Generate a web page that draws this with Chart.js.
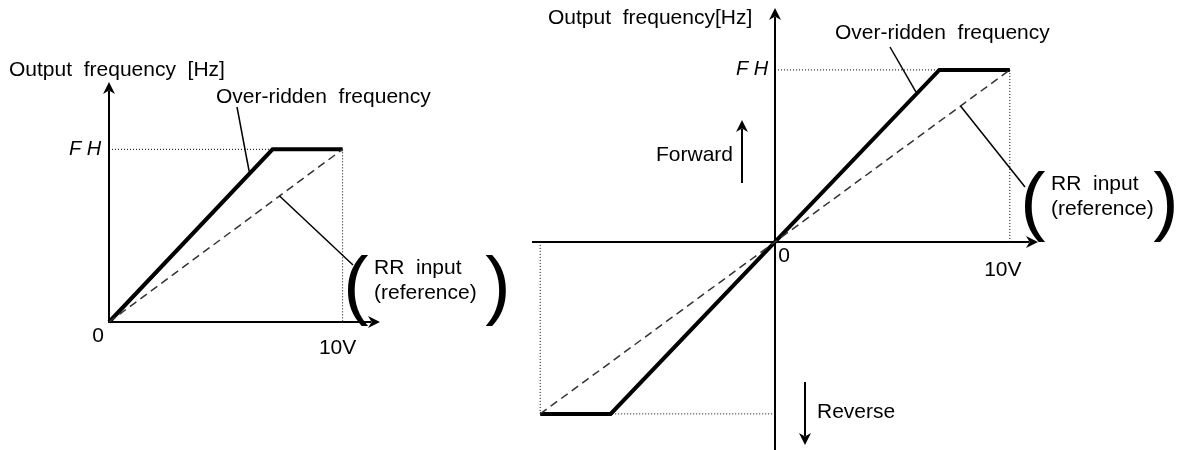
<!DOCTYPE html>
<html>
<head>
<meta charset="utf-8">
<script src="https://cdn.jsdelivr.net/npm/chart.js@4.4.1/dist/chart.umd.min.js"></script>
<style>
  body { margin:0; background:#fff; }
  #wrap { position:relative; width:1178px; height:450px; }
  .box { position:absolute; top:0; }
</style>
</head>
<body>
<div id="wrap">
  <div class="box" style="left:0px"><canvas id="leftChart" width="520" height="450"></canvas></div>
  <div class="box" style="left:500px"><canvas id="rightChart" width="678" height="450"></canvas></div>
</div>
<script>
// input voltage [V] and output frequency [% of FH]
var voltsLeft = [0, 7, 10];
var freqLeft = [0, 100, 100];
var refVoltsLeft = [0, 10];
var refFreqLeft = [0, 100];

var voltsRight = [-10, -7, 0, 7, 10];
var freqRight = [-100, -100, 0, 100, 100];
var refVoltsRight = [-10, 10];
var refFreqRight = [-100, 100];

var xTickLabels = ['0', '10V'];
var xTickValues = [0, 10];
var yTickLabel = 'F H';
var yTickValue = 100;
var seriesNames = ['Over-ridden  frequency', 'RR  input', '(reference)'];

var FONT = '"Liberation Sans", Arial, sans-serif';

function pts(xs, ys) {
	var out = [];
	for (var i = 0; i < xs.length; i++) out.push({x: xs[i], y: ys[i]});
	return out;
}

function arrow(ctx, x1, y1, x2, y2, w) {
	var a = Math.atan2(y2 - y1, x2 - x1);
	var len = 12, half = 6;
	var c = Math.cos(a), s = Math.sin(a);
	ctx.save();
	ctx.strokeStyle = '#000';
	ctx.fillStyle = '#000';
	ctx.lineWidth = w;
	ctx.beginPath();
	ctx.moveTo(x1, y1);
	ctx.lineTo(x2 - c * (len - 3), y2 - s * (len - 3));
	ctx.stroke();
	ctx.beginPath();
	ctx.moveTo(x2, y2);
	ctx.lineTo(x2 - c * len - s * half, y2 - s * len + c * half);
	ctx.lineTo(x2 - c * len * 0.7, y2 - s * len * 0.7);
	ctx.lineTo(x2 - c * len + s * half, y2 - s * len - c * half);
	ctx.closePath();
	ctx.fill();
	ctx.restore();
}

function dotted(ctx, x1, y1, x2, y2) {
	ctx.save();
	ctx.strokeStyle = '#000';
	ctx.lineWidth = 1;
	ctx.setLineDash([1, 2]);
	ctx.beginPath();
	ctx.moveTo(x1, y1);
	ctx.lineTo(x2, y2);
	ctx.stroke();
	ctx.restore();
}

function seg(ctx, x1, y1, x2, y2) {
	ctx.save();
	ctx.strokeStyle = '#000';
	ctx.lineWidth = 1.5;
	ctx.beginPath();
	ctx.moveTo(x1, y1);
	ctx.lineTo(x2, y2);
	ctx.stroke();
	ctx.restore();
}

function text(ctx, s, x, y, align, size, style) {
	ctx.save();
	ctx.fillStyle = '#000';
	ctx.font = (style || '') + ' ' + (size || 21) + 'px ' + FONT;
	ctx.textAlign = align || 'left';
	ctx.textBaseline = 'middle';
	ctx.fillText(s, x, y);
	ctx.restore();
}

function callout(ctx, x, y, gap) {
	// big brackets round the RR input label
	text(ctx, '(', x, y, 'center', 76);
	text(ctx, seriesNames[1], x + 18, y - 21, 'left', 21);
	text(ctx, seriesNames[2], x + 18, y + 4, 'left', 21);
	text(ctx, ')', x + gap, y, 'center', 76);
}

function lineSet(xs, ys, ref) {
	return {
		data: pts(xs, ys),
		showLine: true,
		pointRadius: 0,
		borderColor: ref ? '#333' : '#000',
		borderWidth: ref ? 1.5 : 4,
		borderDash: ref ? [8, 5] : [],
		borderJoinStyle: 'miter',
		borderCapStyle: 'butt',
		clip: false,
		fill: false
	};
}

var leftDiagram = {
	id: 'leftDiagram',
	beforeDatasetsDraw: function (chart) {
		var ctx = chart.ctx, a = chart.chartArea;
		var sx = chart.scales.x, sy = chart.scales.y;
		var x0 = sx.getPixelForValue(0), y0 = sy.getPixelForValue(0);
		var xe = sx.getPixelForValue(10), yf = sy.getPixelForValue(yTickValue);
		dotted(ctx, x0, yf, xe, yf);
		dotted(ctx, xe, yf, xe, y0);
		arrow(ctx, x0, y0 + 1, x0, a.top, 2);
		arrow(ctx, x0 - 1, y0, a.right, y0, 2);
	},
	afterDraw: function (chart) {
		var ctx = chart.ctx;
		var sx = chart.scales.x, sy = chart.scales.y;
		var x0 = sx.getPixelForValue(0), y0 = sy.getPixelForValue(0);
		text(ctx, 'Output  frequency  [Hz]', 9, 70);
		text(ctx, yTickLabel, x0 - 24, sy.getPixelForValue(yTickValue), 'center', 20, 'italic');
		text(ctx, xTickLabels[0], x0 - 11, y0 + 14, 'center');
		text(ctx, xTickLabels[1], sx.getPixelForValue(xTickValues[1]) - 5, y0 + 26, 'center');
		text(ctx, seriesNames[0], 216, 97);
		seg(ctx, 237, 107, sx.getPixelForValue(6), sy.getPixelForValue(86) - 2);
		seg(ctx, sx.getPixelForValue(7.3), sy.getPixelForValue(73), 353, 265);
		callout(ctx, 356, 289, 142);
	}
};

var rightDiagram = {
	id: 'rightDiagram',
	beforeDatasetsDraw: function (chart) {
		var ctx = chart.ctx, a = chart.chartArea;
		var sx = chart.scales.x, sy = chart.scales.y;
		var x0 = sx.getPixelForValue(0), y0 = sy.getPixelForValue(0);
		var xe = sx.getPixelForValue(10), xn = sx.getPixelForValue(-10);
		var yf = sy.getPixelForValue(yTickValue), yn = sy.getPixelForValue(-yTickValue);
		dotted(ctx, x0, yf, xe, yf);
		dotted(ctx, xe, yf, xe, y0);
		dotted(ctx, xn, y0, xn, yn);
		dotted(ctx, xn, yn, x0, yn);
		ctx.save();
		ctx.strokeStyle = '#000';
		ctx.lineWidth = 2;
		ctx.beginPath();
		ctx.moveTo(x0, a.bottom);
		ctx.lineTo(x0, y0);
		ctx.stroke();
		ctx.restore();
		arrow(ctx, x0, y0, x0, a.top, 2);
		arrow(ctx, a.left, y0, a.right, y0, 2);
	},
	afterDraw: function (chart) {
		var ctx = chart.ctx;
		var sx = chart.scales.x, sy = chart.scales.y;
		var x0 = sx.getPixelForValue(0), y0 = sy.getPixelForValue(0);
		text(ctx, 'Output  frequency[Hz]', 48, 18);
		text(ctx, yTickLabel, x0 - 23, sy.getPixelForValue(yTickValue), 'center', 20, 'italic');
		text(ctx, xTickLabels[0], x0 + 9, y0 + 14, 'center');
		text(ctx, xTickLabels[1], sx.getPixelForValue(xTickValues[1]) - 7, y0 + 28, 'center');
		text(ctx, seriesNames[0], 335, 33);
		seg(ctx, 390, 47, sx.getPixelForValue(6), sy.getPixelForValue(86) - 2);
		seg(ctx, sx.getPixelForValue(7.9), sy.getPixelForValue(79), 525, 187);
		callout(ctx, 533, 205, 133);
		text(ctx, 'Forward', 233, 155, 'right');
		arrow(ctx, 242, 183, 242, 120, 2);
		text(ctx, 'Reverse', 317, 412, 'left');
		arrow(ctx, 305, 382, 305, 445, 2);
	}
};

function makeChart(id, sets, xr, yr, pad, plug) {
	return new Chart(document.getElementById(id).getContext('2d'), {
		type: 'scatter',
		data: { datasets: sets },
		options: {
			responsive: false,
			animation: false,
			devicePixelRatio: 1,
			layout: { padding: pad },
			plugins: { legend: { display: false }, tooltip: { enabled: false } },
			scales: {
				x: { type: 'linear', min: xr[0], max: xr[1], display: false },
				y: { type: 'linear', min: yr[0], max: yr[1], display: false }
			}
		},
		plugins: [plug]
	});
}

makeChart('leftChart',
	[lineSet(refVoltsLeft, refFreqLeft, true), lineSet(voltsLeft, freqLeft, false)],
	[0, 11.6], [0, 139],
	{ left: 109, right: 140, top: 82, bottom: 128 }, leftDiagram);

makeChart('rightChart',
	[lineSet(refVoltsRight, refFreqRight, true), lineSet(voltsRight, freqRight, false)],
	[-10.35, 11.2], [-121, 136],
	{ left: 32, right: 140, top: 8, bottom: 0 }, rightDiagram);
</script>
</body>
</html>
